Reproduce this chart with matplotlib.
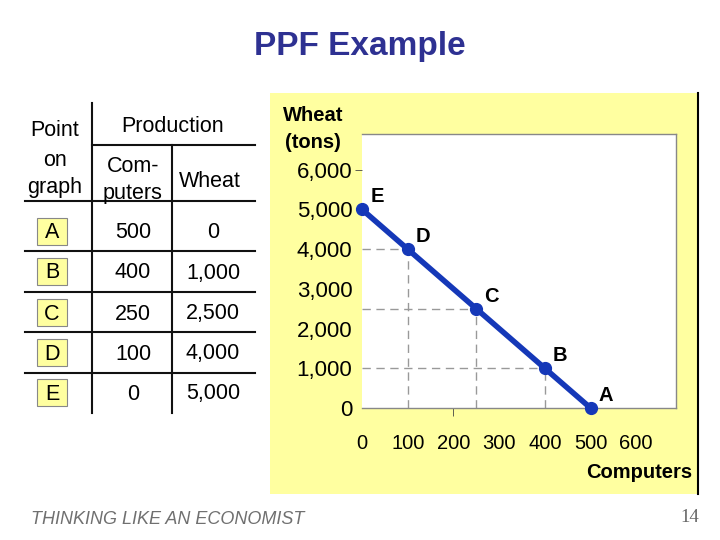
import matplotlib
matplotlib.use('Agg')
import matplotlib.pyplot as plt
from matplotlib.patches import Rectangle
from matplotlib.lines import Line2D

# data
points = ['A', 'B', 'C', 'D', 'E']
computers = [500, 400, 250, 100, 0]
wheat = [0, 1000, 2500, 4000, 5000]
yticks = [0, 1000, 2000, 3000, 4000, 5000, 6000]
xticks = [0, 100, 200, 300, 400, 500, 600]

plt.rcParams['font.family'] = ['Liberation Sans', 'DejaVu Sans']

W, H = 720, 540
fig = plt.figure(figsize=(7.2, 5.4), dpi=100)

def fx(x):
    return x / W

def fy(y):
    return 1 - y / H

blue = '#1538B8'

# title
fig.text(fx(360), fy(47), 'PPF Example', ha='center', va='center',
         fontsize=24, fontweight='bold', color='#2E3192')

# yellow panel behind the chart
fig.patches.append(Rectangle((fx(270), fy(494)), 428 / W, 401 / H,
                             transform=fig.transFigure, facecolor='#FFFFA0',
                             edgecolor='none', zorder=-2))
fig.lines.append(Line2D([fx(698), fx(698)], [fy(93), fy(494)],
                        transform=fig.transFigure, color='black', lw=1.5))

# ---- table on the left ----
tfs = 15.5
lc = '#111111'
fig.lines.append(Line2D([fx(92.5), fx(92.5)], [fy(103), fy(413)],
                        transform=fig.transFigure, color=lc, lw=1.5))
fig.lines.append(Line2D([fx(172), fx(172)], [fy(145), fy(413)],
                        transform=fig.transFigure, color=lc, lw=1.5))
fig.lines.append(Line2D([fx(92.5), fx(255)], [fy(145), fy(145)],
                        transform=fig.transFigure, color=lc, lw=1.5))
for yl in [201, 251, 292, 332, 373]:
    fig.lines.append(Line2D([fx(25), fx(255)], [fy(yl), fy(yl)],
                            transform=fig.transFigure, color=lc, lw=1.5))

fig.text(fx(55), fy(130), 'Point', ha='center', va='center', fontsize=tfs)
fig.text(fx(55), fy(160), 'on', ha='center', va='center', fontsize=tfs)
fig.text(fx(55), fy(188), 'graph', ha='center', va='center', fontsize=tfs)
fig.text(fx(173), fy(126), 'Production', ha='center', va='center', fontsize=tfs)
fig.text(fx(133), fy(167), 'Com-', ha='center', va='center', fontsize=tfs)
fig.text(fx(133), fy(193), 'puters', ha='center', va='center', fontsize=tfs)
fig.text(fx(210), fy(181), 'Wheat', ha='center', va='center', fontsize=tfs)

row_y = [232, 272, 313, 353, 393]
for p, c, w, ry in zip(points, computers, wheat, row_y):
    fig.patches.append(Rectangle((fx(37), fy(ry + 13)), 30 / W, 27 / H,
                                 transform=fig.transFigure, facecolor='#FFFFA0',
                                 edgecolor='#888888', lw=0.8))
    fig.text(fx(52), fy(ry + 1), p, ha='center', va='center', fontsize=tfs)
    fig.text(fx(133), fy(ry + 1), f'{c:,}', ha='center', va='center', fontsize=tfs)
    fig.text(fx(213), fy(ry + 1), f'{w:,}', ha='center', va='center', fontsize=tfs)

# ---- chart ----
ax = fig.add_axes([fx(362), fy(408), 314 / W, 274 / H])
ax.set_zorder(1)
ax.set_facecolor('white')
ax.set_xlim(0, 687)
ax.set_ylim(0, 6900)

for c, w in zip(computers, wheat):
    if c > 0 and w > 0:
        ax.plot([0, c], [w, w], color='#999999', lw=1, ls=(0, (6, 4)), zorder=1)
        ax.plot([c, c], [0, w], color='#999999', lw=1, ls=(0, (6, 4)), zorder=1)

ax.plot(computers, wheat, color=blue, lw=4, marker='o', markersize=8.5,
        zorder=3, clip_on=False)
for p, c, w in zip(points, computers, wheat):
    ax.annotate(p, (c, w), xytext=(11, 9), textcoords='offset points',
                ha='center', va='center', fontsize=14.5, fontweight='bold')

ax.spines['left'].set_visible(False)
for s in ['bottom', 'right', 'top']:
    ax.spines[s].set_color('#888888')
    ax.spines[s].set_linewidth(1)

ax.xaxis.remove_overlapping_locs = False
ax.yaxis.remove_overlapping_locs = False
ax.set_yticks(yticks)
ax.set_yticklabels([f'{v:,}' for v in yticks], fontsize=16)
ax.set_xticks(xticks)
ax.set_xticklabels([str(v) for v in xticks], fontsize=14.5)
ax.tick_params(axis='y', length=0, pad=7)
ax.tick_params(axis='x', length=0, pad=19)
ax.set_yticks([6000], minor=True)
ax.set_xticks([200], minor=True)
ax.tick_params(axis='y', which='minor', length=5, color='#444444', direction='out')
ax.tick_params(axis='x', which='minor', length=6, color='#444444', direction='out')

fig.text(fx(313), fy(115), 'Wheat', ha='center', va='center',
         fontsize=14.5, fontweight='bold')
fig.text(fx(313), fy(142), '(tons)', ha='center', va='center',
         fontsize=14.5, fontweight='bold')
fig.text(fx(692), fy(473), 'Computers', ha='right', va='center',
         fontsize=14.5, fontweight='bold')

# footer
fig.text(fx(31), fy(519), 'THINKING LIKE AN ECONOMIST', ha='left', va='center',
         fontsize=13, style='italic', color='#707070')
fig.text(fx(699), fy(517), '14', ha='right', va='center', fontsize=13.5,
         color='#666666', family=['Liberation Serif', 'DejaVu Serif'])

fig.savefig('out.png', dpi=100)
